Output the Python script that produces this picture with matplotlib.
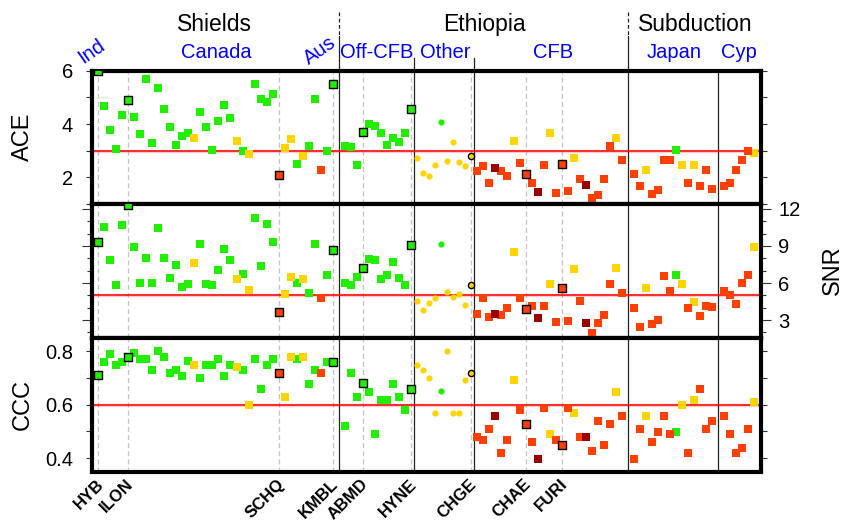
import numpy as np
import matplotlib.pyplot as plt
from matplotlib import transforms

plt.rcParams['font.family'] = ['Liberation Sans', 'DejaVu Sans']

# station groups along the x axis; an empty slot follows some of them
regions = ['Shields', 'Off-CFB', 'Other', 'CFB', 'Japan', 'Cyp']
counts = [40, 12, 10, 25, 14, 6]
gap_after = [1, 0, 0, 1, 1, 0]

ace = [
    # Shields
    5.99, 4.69, 3.79, 3.06, 4.35, 4.89, 4.28, 3.64, 5.70, 3.30,
    5.36, 4.58, 3.90, 3.22, 3.56, 3.65, 3.46, 4.46, 3.90, 3.04,
    4.12, 4.72, 4.24, 3.37, 3.00, 2.89, 5.51, 4.95, 4.83, 5.14,
    2.07, 3.11, 3.45, 2.51, 2.81, 3.17, 4.95, 2.29, 3.00, 5.51,
    # Off-CFB
    3.19, 3.15, 2.48, 3.71, 4.01, 3.94, 3.67, 3.22, 3.48, 3.34, 3.67, 4.58,
    # Other
    2.71, 2.18, 2.06, 2.48, 4.06, 2.60, 3.32, 2.56, 2.44, 2.81,
    # CFB
    2.24, 2.44, 1.80, 2.36, 2.25, 2.06, 3.38, 2.55, 2.14, 1.80,
    1.45, 2.48, 3.68, 1.43, 2.50, 1.50, 2.74, 1.95, 1.73, 1.21,
    1.35, 1.95, 3.19, 3.49, 2.66,
    # Japan
    2.14, 1.69, 2.29, 1.39, 1.54, 2.66, 2.66, 3.04, 2.48, 1.80, 2.48, 1.69, 2.29, 1.58,
    # Cyp
    1.69, 1.80, 2.29, 2.66, 3.00, 2.93,
]

snr = [
    # Shields
    9.33, 10.56, 7.86, 5.82, 10.72, 12.28, 8.92, 5.98, 8.02, 5.98,
    10.48, 8.02, 6.42, 7.45, 5.65, 5.90, 7.62, 9.17, 5.90, 5.82,
    7.04, 8.76, 7.86, 6.31, 6.72, 5.41, 11.29, 7.37, 10.80, 9.33,
    3.69, 5.08, 6.47, 5.98, 6.31, 5.16, 9.17, 4.76, 6.62, 8.68,
    # Off-CFB
    5.98, 5.82, 6.47, 7.21, 7.94, 7.86, 6.31, 6.63, 7.70, 6.39, 5.82, 9.08,
    # Other
    4.54, 3.79, 4.35, 4.76, 9.17, 5.27, 4.88, 5.08, 4.26, 5.84,
    # CFB
    3.53, 4.76, 3.29, 3.53, 3.45, 3.94, 8.50, 4.76, 3.86, 4.18,
    3.20, 4.18, 5.90, 2.88, 5.57, 2.96, 7.12, 4.51, 2.80, 1.98,
    2.80, 3.45, 5.90, 7.20, 5.16,
    # Japan
    3.94, 2.47, 5.57, 2.71, 3.04, 6.55, 5.33, 6.63, 5.90, 3.94, 4.50, 3.37, 4.18, 4.02,
    # Cyp
    5.33, 5.00, 4.27, 5.98, 6.63, 8.90,
]

ccc = [
    # Shields
    0.71, 0.76, 0.79, 0.75, 0.76, 0.78, 0.795, 0.772, 0.772, 0.731,
    0.80, 0.78, 0.72, 0.732, 0.709, 0.762, 0.75, 0.70, 0.75, 0.75,
    0.772, 0.709, 0.75, 0.74, 0.731, 0.60, 0.772, 0.66, 0.75, 0.772,
    0.72, 0.63, 0.78, 0.772, 0.78, 0.679, 0.731, 0.72, 0.76, 0.76,
    # Off-CFB
    0.521, 0.72, 0.63, 0.68, 0.648, 0.491, 0.619, 0.619, 0.679, 0.63, 0.581, 0.66,
    # Other
    0.75, 0.729, 0.70, 0.57, 0.65, 0.80, 0.57, 0.57, 0.691, 0.72,
    # CFB
    0.48, 0.469, 0.51, 0.559, 0.42, 0.469, 0.691, 0.581, 0.529, 0.461,
    0.398, 0.589, 0.491, 0.469, 0.45, 0.589, 0.57, 0.48, 0.48, 0.428,
    0.54, 0.45, 0.529, 0.649, 0.559,
    # Japan
    0.398, 0.51, 0.559, 0.462, 0.499, 0.559, 0.49, 0.499, 0.60, 0.42, 0.619, 0.66, 0.51, 0.54,
    # Cyp
    0.559, 0.49, 0.42, 0.439, 0.51, 0.611,
]

# g = good, y = fair, r = poor, d = very poor
quality = ("ggggggggggggggggyggggggygyggggryygyggrgg"
           "gggggggggggg"
           "yyyygyyyyy"
           "rrrdrryrrrdryrrryrdrrrryr"
           "rryrrrrgyryrrr"
           "rrrrry")

# labelled stations (index into the station lists)
named = {'HYB': 0, 'ILON': 5, 'SCHQ': 30, 'KMBL': 39, 'ABMD': 43,
         'HYNE': 51, 'CHGE': 61, 'CHAE': 70, 'FURI': 76}

colors = {'g': '#22ee00', 'y': '#ffd400', 'r': '#ff4000', 'd': '#990000'}

# x slot of every station
pos = []
start = 0
region_of = []
for k, (n, g) in enumerate(zip(counts, gap_after)):
    pos.extend(range(start, start + n))
    region_of.extend([k] * n)
    start += n + g
pos = np.array(pos)
region_of = np.array(region_of)
qual = np.array(list(quality))

ends = np.cumsum(counts)
bounds = [(pos[e - 1] + pos[e]) / 2 for e in ends[:-1]]

W, H = 844, 523
fig = plt.figure(figsize=(W / 100, H / 100), dpi=100)


def box(top, bottom):
    return [92 / W, 1 - bottom / H, 669 / W, (bottom - top) / H]


ax1 = fig.add_axes(box(70.7, 204))
ax2 = fig.add_axes(box(204, 338))
ax3 = fig.add_axes(box(338, 471.5))

panels = [(ax1, ace, 3.0), (ax2, snr, 5.0), (ax3, ccc, 0.6)]

is_named = np.zeros(len(pos), dtype=bool)
is_named[list(named.values())] = True

for ax, vals, thr in panels:
    ax.set_xlim(-1, 110.1)
    ax.set_xticks([])
    for sp in ax.spines.values():
        sp.set_linewidth(3)
    for name, s in named.items():
        ax.axvline(pos[s], color='#c4c4c4', lw=0.9, ls=(0, (4, 2.5)), zorder=1)
    for b in bounds:
        ax.axvline(b, color='#222222', lw=0.9, zorder=1)
    ax.axhline(thr, color='red', lw=2.4, alpha=0.2, zorder=2)
    ax.axhline(thr, color='red', lw=1.1, zorder=2)

    vals = np.array(vals)
    for k in range(len(regions)):
        m = 'o' if regions[k] == 'Other' else 's'
        size = 20 if m == 'o' else 34
        for q in 'gyrd':
            sel = (region_of == k) & (qual == q)
            plain = sel & ~is_named
            edged = sel & is_named
            ax.scatter(pos[plain], vals[plain], marker=m, s=size, c=colors[q],
                       linewidths=0, zorder=3)
            if edged.any():
                ax.scatter(pos[edged], vals[edged], marker=m, s=size, c=colors[q],
                           edgecolors='black', linewidths=1.0, zorder=4)

# y axes
ax1.set_ylim(1, 6)
ax1.set_yticks([2, 4, 6])
ax1.set_yticks([1, 3, 5], minor=True)
ax1.tick_params(axis='y', which='both', left=True, right=True, direction='out',
                length=4.5, width=0.8, color='#333333', labelsize=14.5, pad=9)

ax2.set_ylim(1.55, 12.4)
ax2.set_yticks([3, 6, 9, 12])
ax2.set_yticks(range(2, 13), minor=True)
ax2.tick_params(axis='y', which='major', left=True, right=True, labelleft=False,
                labelright=True, direction='out', length=7.5, width=0.8,
                color='#333333', labelsize=14.5, pad=5)
ax2.tick_params(axis='y', which='minor', left=True, right=True, direction='out',
                length=3.8, width=0.8, color='#333333')

ax3.set_ylim(0.35, 0.85)
ax3.set_yticks([0.4, 0.6, 0.8])
ax3.set_yticks([0.5, 0.7], minor=True)
ax3.tick_params(axis='y', which='both', left=True, right=True, direction='out',
                length=4.5, width=0.8, color='#333333', labelsize=14.5, pad=9)

fig.text(23 / W, 1 - 137 / H, 'ACE', rotation=90, ha='center', va='center', fontsize=17)
fig.text(23 / W, 1 - 405 / H, 'CCC', rotation=90, ha='center', va='center', fontsize=17)
fig.text(833 / W, 1 - 270 / H, 'SNR', rotation=90, ha='center', va='center', fontsize=17)

# station names under the bottom panel
for name, s in named.items():
    ax3.annotate(name, xy=(pos[s], 0), xycoords=('data', 'axes fraction'),
                 xytext=(6, -3.5), textcoords='offset points', rotation=45,
                 ha='right', va='top', fontsize=12, fontweight='bold')

# group headers above the top panel
trans = transforms.blended_transform_factory(ax1.transData, fig.transFigure)


def fy(px):
    return 1 - px / H


for b in [bounds[0], bounds[3]]:
    ax1.plot([b, b], [fy(12), fy(36)], transform=trans, color='#222222', lw=0.9,
             ls=(0, (3, 2)), clip_on=False)
    ax1.plot([b, b], [fy(36), fy(70.7)], transform=trans, color='#222222', lw=0.9,
             clip_on=False)
for b in [bounds[1], bounds[2]]:
    ax1.plot([b, b], [fy(58), fy(70.7)], transform=trans, color='#222222', lw=0.9,
             clip_on=False)

for label, x in [('Shields', 19.4), ('Ethiopia', 64.2), ('Subduction', 99.2)]:
    ax1.text(x, fy(31), label, transform=trans, ha='center', va='baseline', fontsize=16.5)

for label, x in [('Canada', 19.7), ('Off-CFB', 46.3), ('Other', 57.6), ('CFB', 75.5),
                 ('Japan', 95.6), ('Cyp', 106.4)]:
    ax1.text(x, fy(57.5), label, transform=trans, ha='center', va='baseline',
             fontsize=14.5, color='blue')
for label, x in [('Ind', -1.05), ('Aus', 36.9)]:
    ax1.text(x, fy(51), label, transform=trans, ha='center', va='center',
             fontsize=14.5, color='blue', rotation=35)

fig.savefig('out.png', dpi=100)
